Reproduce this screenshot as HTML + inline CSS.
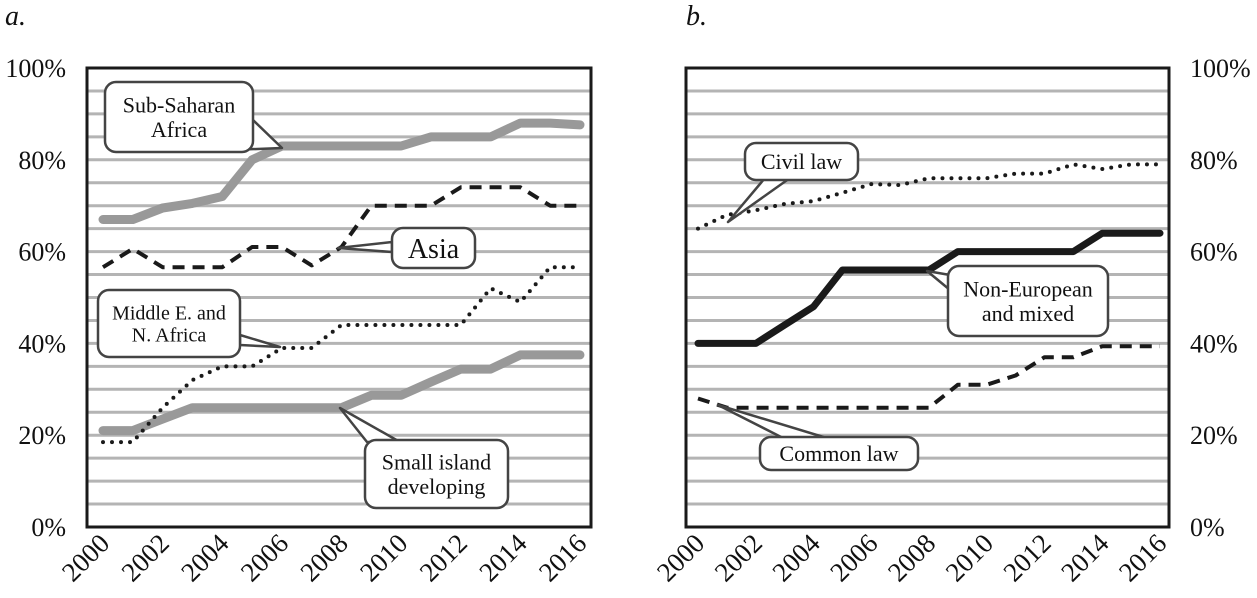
<!DOCTYPE html>
<html><head><meta charset="utf-8"><style>
html,body{margin:0;padding:0;background:#fff;}
svg{display:block;}
svg text{font-family:"Liberation Serif","Times New Roman",serif;}
</style></head><body>
<svg id="chart" width="1257" height="598" viewBox="0 0 1257 598" xmlns="http://www.w3.org/2000/svg">
<g id="layer"></g>
</svg>
<script>
const years = [2000,2001,2002,2003,2004,2005,2006,2007,2008,2009,2010,2011,2012,2013,2014,2015,2016];
const yTicks = [0,20,40,60,80,100];
const xTickYears = [2000,2002,2004,2006,2008,2010,2012,2014,2016];
const subSaharan = [67,67,69.5,70.5,72,80,83,83,83,83,83,85,85,85,88,88,87.6];
const asia = [56.6,60.6,56.6,56.6,56.6,61,61,57,61,70,70,70,74,74,74,70,70];
const mena = [18.5,18.5,26,32,35,35,39,39,44,44,44,44,44,52,49,56.6,56.6];
const smallIsland = [21,21,23.5,26,26,26,26,26,26,28.7,28.7,31.6,34.4,34.4,37.5,37.5,37.5];
const civilLaw = [65,68,69,70.4,71,72.8,74.7,74.5,76,76,76,77,77,79,78,79,79];
const nonEuropean = [40,40,40,44,48,56,56,56,56,60,60,60,60,60,64,64,64];
const commonLaw = [28,26,26,26,26,26,26,26,26,31,31,33,37,37,39.4,39.4,39.4];

const NS='http://www.w3.org/2000/svg';
const layer=document.getElementById('layer');
const FONT='font-family:"Liberation Serif","Times New Roman",serif;';
function mk(tag,attrs,parent){const e=document.createElementNS(NS,tag);for(const k in attrs)e.setAttribute(k,attrs[k]);(parent||layer).appendChild(e);return e;}
const yTop=68, yBot=527;
function yScale(v){return yBot-(v/100)*(yBot-yTop);}

const panels=[
 {name:'panel-a',x0:87,x1:591,px0:103,px1:580,labelSide:'left'},
 {name:'panel-b',x0:686,x1:1169,px0:698,px1:1160,labelSide:'right'}
];
panels.forEach(p=>{p.xs=(yr)=>p.px0+(yr-2000)/16*(p.px1-p.px0);});

panels.forEach(p=>{
  const g=mk('g',{});
  
  
  for(let v=5;v<100;v+=5){
    const gl=mk('line',{x1:p.x0,x2:p.x1,y1:yScale(v),y2:yScale(v),stroke:'#b4b4b4','stroke-width':3},g);
    
    
  }
  const fr=mk('rect',{x:p.x0,y:yTop,width:p.x1-p.x0,height:yBot-yTop,fill:'none',stroke:'#1a1a1a','stroke-width':3},g);
  
  
  yTicks.forEach(v=>{
    const t=mk('text',{x:p.labelSide==='left'?66:1190,y:yScale(v)+9,'font-size':26,'text-anchor':p.labelSide==='left'?'end':'start',fill:'#111',style:FONT},g);
    t.textContent=v+'%';
    
    
  });
  xTickYears.forEach(yr=>{
    const x=p.xs(yr)+8, y=545;
    const t=mk('text',{x:x,y:y,'font-size':27,'text-anchor':'end',fill:'#111',style:FONT,transform:`rotate(-45 ${x} ${y})`},g);
    t.textContent=yr;
    
    
  });
});
const ta=mk('text',{x:5,y:25,'font-size':28,'font-style':'italic',fill:'#111',style:FONT});ta.textContent='a.';


const tb=mk('text',{x:686,y:25,'font-size':28,'font-style':'italic',fill:'#111',style:FONT});tb.textContent='b.';



function series(p,vals,style,name){
  const d=vals.map((v,i)=>(i?'L':'M')+p.xs(years[i]).toFixed(1)+' '+yScale(v).toFixed(1)).join(' ');
  const e=mk('path',Object.assign({d:d,fill:'none','stroke-linejoin':'round'},style));
  
  
}
const A=panels[0],B=panels[1];
const gray={stroke:'#999','stroke-width':9,'stroke-linecap':'round'};
const dashed={stroke:'#1a1a1a','stroke-width':4,'stroke-dasharray':'12 8'};
const dotted={stroke:'#1a1a1a','stroke-width':4,'stroke-dasharray':'0 9','stroke-linecap':'round'};
series(A,subSaharan,gray,'series-sub-saharan-africa');
series(A,smallIsland,gray,'series-small-island-developing');
series(A,asia,dashed,'series-asia');
series(A,mena,dotted,'series-middle-east-north-africa');
series(B,civilLaw,dotted,'series-civil-law');
series(B,nonEuropean,{stroke:'#1a1a1a','stroke-width':7,'stroke-linecap':'round'},'series-non-european-mixed');
series(B,commonLaw,dashed,'series-common-law');

function callout(bx,by,bw,bh,tail,lines,fs,name){
  const g=mk('g',{});
  
  
  mk('polygon',{points:tail.map(q=>q.join(',')).join(' '),fill:'#fff',stroke:'#444','stroke-width':2.5,'stroke-linejoin':'round'},g);
  mk('rect',{x:bx,y:by,width:bw,height:bh,rx:11,fill:'#fff',stroke:'#444','stroke-width':2.5},g);
  const lh=fs*1.12, start=by+bh/2-(lines.length-1)*lh/2+fs*0.35;
  lines.forEach((s,i)=>{const t=mk('text',{x:bx+bw/2,y:start+i*lh,'font-size':fs,'text-anchor':'middle',fill:'#111',style:FONT},g);t.textContent=s;});
}
callout(105,82,148,70,[[230,150],[282,148],[253,120]],['Sub-Saharan','Africa'],22,'callout-sub-saharan-africa');
callout(392,228,83,40,[[392,242],[338,248],[392,252]],['Asia'],28,'callout-asia');
callout(98,290,142,67,[[240,335],[280,347],[240,345]],['Middle E. and','N. Africa'],20,'callout-middle-east');
callout(365,440,143,68,[[367,442],[340,408],[400,442]],['Small island','developing'],22,'callout-small-island');
callout(745,143,113,37,[[765,178],[728,222],[790,178]],['Civil law'],22,'callout-civil-law');
callout(948,266,160,70,[[950,275],[927,271],[950,290]],['Non-European','and mixed'],22,'callout-non-european');
callout(760,437,158,33,[[785,439],[718,405],[830,439]],['Common law'],22,'callout-common-law');
</script>
</body></html>
